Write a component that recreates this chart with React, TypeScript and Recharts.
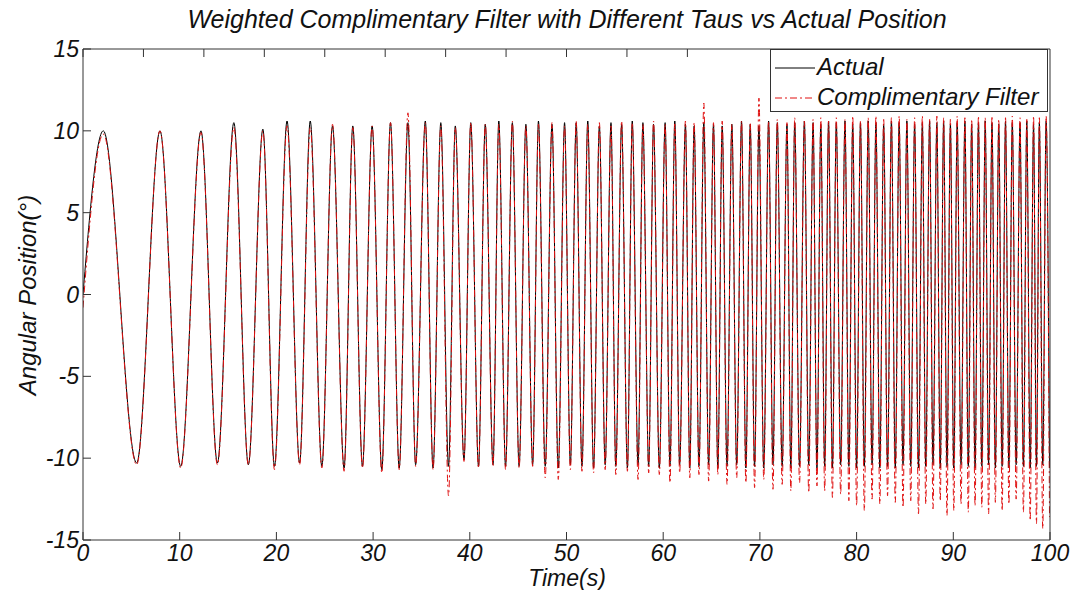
import React from "react";
import { LineChart, Line, XAxis, YAxis, Legend } from "recharts";

// time (s) of each crest / trough
const peakTimes = [
  2.1, 7.96, 12.2, 15.6, 18.6, 21.1, 23.5, 25.8, 27.9, 29.9,
  31.8, 33.6, 35.4, 37.0, 38.5, 40.1, 41.6, 43.0, 44.4, 45.8,
  47.1, 48.5, 49.8, 51.0, 52.2, 53.4, 54.6, 55.7, 56.8, 57.9,
  59.0, 60.2, 61.2, 62.3, 63.2, 64.2, 65.2, 66.1, 67.1, 68.1,
  69.0, 69.9, 70.9, 71.8, 72.8, 73.6, 74.6, 75.5, 76.3, 77.1,
  77.9, 78.8, 79.6, 80.4, 81.2, 82.0, 82.8, 83.6, 84.4, 85.2,
  86.0, 86.8, 87.55, 88.3, 89.0, 89.7, 90.4, 91.2, 91.9, 92.6,
  93.3, 94.0, 94.7, 95.4, 96.1, 96.9, 97.6, 98.3, 98.9, 99.6,
];
const troughTimes = [
  5.55, 10.1, 13.9, 17.1, 19.8, 22.4, 24.7, 27.0, 28.9, 30.9,
  32.7, 34.4, 36.2, 37.8, 39.4, 40.9, 42.4, 43.7, 45.1, 46.5,
  47.8, 49.15, 50.4, 51.6, 52.8, 54.0, 55.1, 56.3, 57.4, 58.5,
  59.6, 60.7, 61.7, 62.75, 63.7, 64.7, 65.65, 66.6, 67.6, 68.55,
  69.45, 70.4, 71.35, 72.3, 73.2, 74.1, 75.05, 75.9, 76.7, 77.5,
  78.35, 79.2, 80.0, 80.8, 81.6, 82.4, 83.2, 84.0, 84.8, 85.6,
  86.4, 87.15, 87.9, 88.65, 89.35, 90.05, 90.8, 91.55, 92.25, 92.95,
  93.65, 94.35, 95.05, 95.75, 96.5, 97.25, 97.95, 98.6, 99.25, 99.95,
];

const actualPeaks = [
  10.0, 10.0, 10.0, 10.5, 10.1, 10.6, 10.6, 10.3, 10.3, 10.3,
  10.5, 10.5, 10.6, 10.5, 10.3, 10.5, 10.4, 10.6, 10.5, 10.4,
  10.6, 10.4, 10.5, 10.5, 10.6, 10.3, 10.5, 10.4, 10.6, 10.5,
  10.4, 10.5, 10.6, 10.4, 10.3, 10.5, 10.4, 10.3, 10.4, 10.6,
  10.4, 10.3, 10.6, 10.5, 10.4, 10.5, 10.6, 10.5, 10.4, 10.6,
  10.5, 10.6, 10.4, 10.5, 10.6, 10.5, 10.4, 10.6, 10.5, 10.6,
  10.4, 10.5, 10.6, 10.5, 10.6, 10.4, 10.5, 10.6, 10.4, 10.5,
  10.6, 10.5, 10.4, 10.6, 10.5, 10.5, 10.6, 10.4, 10.5, 10.6,
];
const actualTroughs = [
  -10.3, -10.5, -10.3, -10.4, -10.5, -10.3, -10.5, -10.6, -10.5, -10.7,
  -10.6, -10.4, -10.6, -10.5, -10.1, -10.5, -10.4, -10.5, -10.5, -10.4,
  -10.5, -10.6, -10.4, -10.5, -10.6, -10.4, -10.5, -10.6, -10.4, -10.5,
  -10.6, -10.5, -10.4, -10.6, -10.5, -10.4, -10.6, -10.5, -10.4, -10.6,
  -10.5, -10.6, -10.4, -10.5, -10.6, -10.5, -10.4, -10.6, -10.5, -10.6,
  -10.4, -10.5, -10.6, -10.5, -10.4, -10.6, -10.5, -10.6, -10.4, -10.5,
  -10.6, -10.5, -10.4, -10.6, -10.5, -10.6, -10.4, -10.5, -10.6, -10.5,
  -10.4, -10.6, -10.5, -10.6, -10.4, -10.5, -10.6, -10.5, -10.4, -10.6,
];

const filterPeaks = [
  9.8, 10.0, 9.9, 10.2, 10.0, 10.3, 10.2, 10.4, 10.2, 10.3,
  10.5, 11.1, 10.5, 10.3, 10.2, 10.5, 10.4, 10.4, 10.6, 10.3,
  10.4, 10.5, 10.3, 10.6, 10.4, 10.5, 10.3, 10.6, 10.5, 10.4,
  10.6, 10.4, 10.5, 10.6, 10.5, 11.7, 10.5, 10.6, 10.4, 10.6,
  10.5, 12.0, 10.6, 10.7, 10.5, 10.8, 10.6, 10.7, 10.8, 10.6,
  10.8, 10.7, 10.9, 10.6, 10.8, 10.9, 10.7, 10.8, 10.9, 10.7,
  10.8, 10.9, 10.7, 10.9, 10.8, 10.7, 10.9, 10.8, 10.7, 10.9,
  10.8, 10.9, 10.7, 10.8, 10.9, 10.8, 10.7, 10.9, 10.8, 10.9,
];
const filterTroughs = [
  -10.4, -10.6, -10.4, -10.4, -10.7, -10.4, -10.6, -10.8, -10.6, -10.9,
  -10.7, -10.5, -10.7, -12.3, -10.2, -10.6, -10.5, -10.7, -10.6, -10.5,
  -11.2, -11.3, -10.7, -10.8, -10.9, -10.7, -11.0, -10.8, -11.3, -10.9,
  -11.0, -11.5, -10.9, -11.2, -11.0, -11.4, -11.0, -11.6, -11.2, -11.5,
  -11.8, -11.3, -11.9, -11.6, -12.0, -11.5, -12.1, -11.7, -12.0, -12.4,
  -12.2, -12.6, -12.9, -13.2, -12.5, -12.8, -12.3, -12.7, -13.0, -12.6,
  -13.4, -12.8, -13.1, -12.6, -13.5, -13.2, -12.8, -13.3, -12.9, -13.0,
  -13.4, -12.7, -13.2, -12.8, -12.5, -13.3, -13.8, -14.0, -14.3, -13.6,
];

const startActual = 0;
const startFilter = -0.8;

const xTicks = [0, 10, 20, 30, 40, 50, 60, 70, 80, 90, 100];
const yTicks = [-15, -10, -5, 0, 5, 10, 15];

const rows: { t: number; actual: number; filter: number }[] = [
  { t: 0, actual: startActual, filter: startFilter },
];
peakTimes.forEach((t, i) => {
  rows.push({ t, actual: actualPeaks[i], filter: filterPeaks[i] });
  rows.push({ t: troughTimes[i], actual: actualTroughs[i], filter: filterTroughs[i] });
});

const FONT = "'Liberation Sans', Arial, sans-serif";
const AXIS = "#333";
const textStyle: React.CSSProperties = { fontFamily: FONT, fontStyle: "italic", fontSize: 23, fill: "#111" };

const BottomTick = (p: any) => (
  <g>
    <line x1={p.x} y1={p.y} x2={p.x} y2={p.y - 8} stroke={AXIS} />
    <text x={p.x} y={p.y + 21} textAnchor="middle" style={textStyle}>{p.payload.value}</text>
  </g>
);
const TopTick = (p: any) => <line x1={p.x} y1={p.y} x2={p.x} y2={p.y + 8} stroke={AXIS} />;
const LeftTick = (p: any) => (
  <g>
    <line x1={p.x} y1={p.y} x2={p.x + 8} y2={p.y} stroke={AXIS} />
    <text x={p.x - 4} y={p.y + 8} textAnchor="end" style={textStyle}>{p.payload.value}</text>
  </g>
);
const RightTick = (p: any) => <line x1={p.x} y1={p.y} x2={p.x - 8} y2={p.y} stroke={AXIS} />;

const LegendBox = () => (
  <div
    style={{
      width: 278,
      height: 63,
      background: "#fff",
      border: `1px solid ${AXIS}`,
      fontFamily: FONT,
      fontStyle: "italic",
      fontSize: 24,
      color: "#111",
      lineHeight: "30px",
      paddingTop: 2,
      boxSizing: "border-box",
    }}
  >
    <div style={{ display: "flex", alignItems: "center" }}>
      <svg width={46} height={30}>
        <line x1={4} y1={16} x2={44} y2={16} stroke="#000" strokeWidth={1} />
      </svg>
      <span>Actual</span>
    </div>
    <div style={{ display: "flex", alignItems: "center" }}>
      <svg width={46} height={30}>
        <line x1={4} y1={16} x2={44} y2={16} stroke="#e01010" strokeWidth={1} strokeDasharray="7 3 2 3" />
      </svg>
      <span>Complimentary Filter</span>
    </div>
  </div>
);

export default function App() {
  return (
    <div style={{ position: "relative", width: 1066, height: 582 }}>
      <div
        style={{
          position: "absolute",
          top: -2,
          left: 26,
          width: 1066,
          textAlign: "center",
          fontFamily: FONT,
          fontStyle: "italic",
          fontSize: 25,
          lineHeight: "26px",
          color: "#111",
        }}
      >
        Weighted Complimentary Filter with Different Taus vs Actual Position
      </div>
      <div
        style={{
          position: "absolute",
          left: 20,
          top: 287,
          transform: "translate(-50%, -50%) rotate(-90deg)",
          whiteSpace: "nowrap",
          fontFamily: FONT,
          fontStyle: "italic",
          fontSize: 24,
          color: "#111",
        }}
      >
        Angular Position(°)
      </div>
      <div
        style={{
          position: "absolute",
          left: 559,
          top: 570,
          transform: "translate(-50%, -50%)",
          whiteSpace: "nowrap",
          fontFamily: FONT,
          fontStyle: "italic",
          fontSize: 23,
          lineHeight: "24px",
          color: "#111",
        }}
      >
        Time(s)
      </div>
      <LineChart width={1066} height={582} data={rows} margin={{ top: 0, right: 0, bottom: 0, left: 0 }}>
        <XAxis
          dataKey="t"
          type="number"
          domain={[0, 100]}
          ticks={xTicks}
          interval={0}
          height={50}
          tickSize={0}
          tickMargin={0}
          tickLine={false}
          axisLine={{ stroke: AXIS }}
          tick={(p: any) => <BottomTick {...p} />}
          allowDataOverflow
        />
        <XAxis
          xAxisId="top"
          orientation="top"
          type="number"
          domain={[0, 100]}
          ticks={xTicks}
          interval={0}
          height={41}
          tickSize={0}
          tickMargin={0}
          tickLine={false}
          axisLine={{ stroke: AXIS }}
          tick={(p: any) => <TopTick {...p} />}
        />
        <YAxis
          type="number"
          domain={[-15, 15]}
          ticks={yTicks}
          interval={0}
          width={75}
          tickSize={0}
          tickMargin={0}
          tickLine={false}
          axisLine={{ stroke: AXIS }}
          tick={(p: any) => <LeftTick {...p} />}
          allowDataOverflow
        />
        <YAxis
          yAxisId="right"
          orientation="right"
          type="number"
          domain={[-15, 15]}
          ticks={yTicks}
          interval={0}
          width={24}
          tickSize={0}
          tickMargin={0}
          tickLine={false}
          axisLine={{ stroke: AXIS }}
          tick={(p: any) => <RightTick {...p} />}
        />
        <Legend
          verticalAlign="middle"
          align="center"
          layout="horizontal"
          wrapperStyle={{ top: 41, left: 762, width: 280 }}
          content={() => <LegendBox />}
        />
        <Line
          type="monotoneX"
          dataKey="actual"
          name="Actual"
          stroke="#000"
          strokeWidth={1}
          dot={false}
          isAnimationActive={false}
        />
        <Line
          type="monotoneX"
          dataKey="filter"
          name="Complimentary Filter"
          stroke="#e01010"
          strokeWidth={1}
          strokeDasharray="7 3 2 3"
          dot={false}
          isAnimationActive={false}
        />
      </LineChart>
    </div>
  );
}
